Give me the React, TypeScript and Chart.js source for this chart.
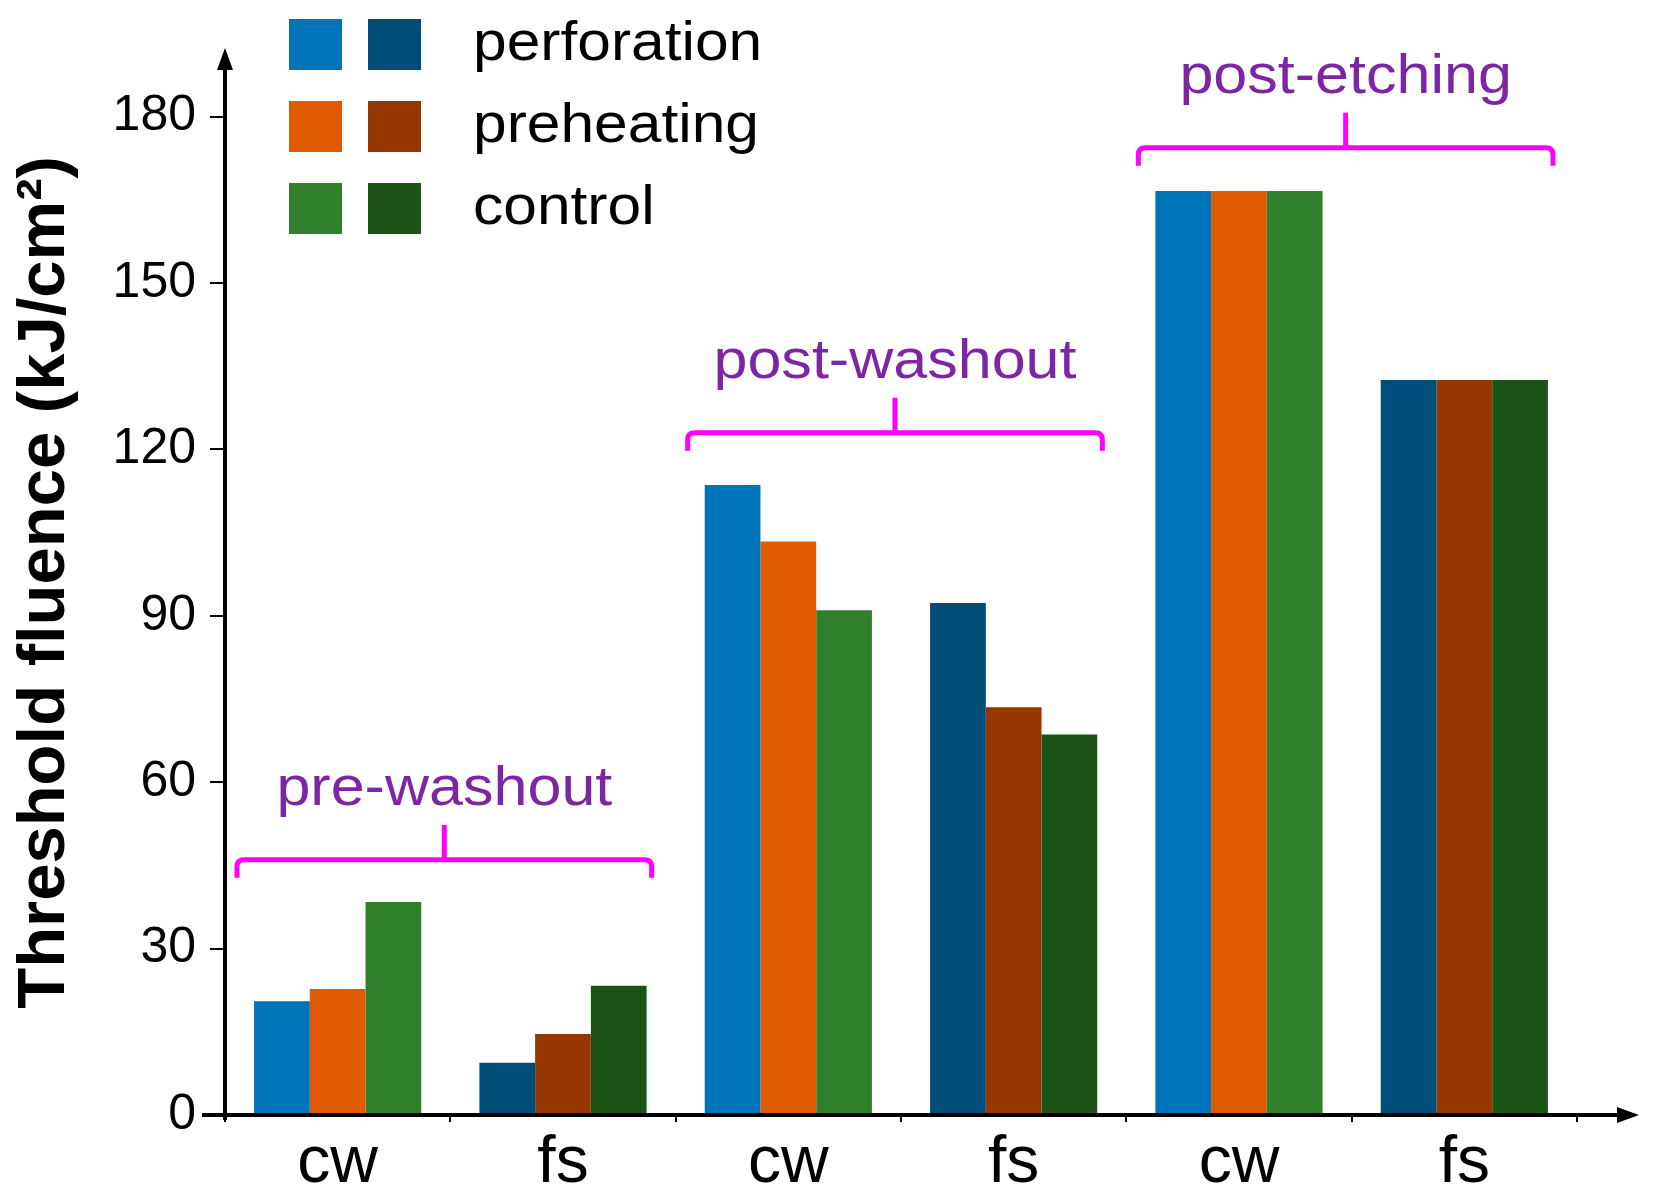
import React, { useEffect, useRef } from "react";
import { Chart, registerables } from "chart.js";

Chart.register(...registerables);

const categories = ["cw", "fs", "cw", "fs", "cw", "fs"];
const seriesNames = ["perforation", "preheating", "control"];
const perforation = [20.5, 9.4, 113.6, 92.3, 166.6, 132.5];
const preheating = [22.7, 14.6, 103.4, 73.5, 166.6, 132.5];
const control = [38.4, 23.3, 91.0, 68.6, 166.6, 132.5];
const groupLabels = ["pre-washout", "post-washout", "post-etching"];
const braceLevels = [46, 123, 174.4];
const yTickValues = [0, 30, 60, 90, 120, 150, 180];
const lightColors = ["#0074B8", "#E05A00", "#31812C"];
const darkColors = ["#004D7A", "#963600", "#1C5418"];

const FONT = "'Liberation Sans', Arial, Helvetica, sans-serif";

const overlayPlugin = {
  id: "overlay",
  afterDraw(chart: any) {
    const ctx: CanvasRenderingContext2D = chart.ctx;
    const xs = chart.scales.x;
    const ys = chart.scales.y;
    const area = chart.chartArea;
    const y0 = ys.getPixelForValue(0);
    ctx.save();
    // axes
    ctx.strokeStyle = "#000";
    ctx.fillStyle = "#000";
    ctx.lineWidth = 4;
    ctx.beginPath();
    ctx.moveTo(area.left, y0 + 5);
    ctx.lineTo(area.left, area.top + 12);
    ctx.stroke();
    ctx.beginPath();
    ctx.moveTo(area.left, area.top - 2);
    ctx.lineTo(area.left - 8, area.top + 20);
    ctx.lineTo(area.left + 8, area.top + 20);
    ctx.closePath();
    ctx.fill();
    const xEnd = area.right + 62;
    ctx.beginPath();
    ctx.moveTo(area.left - 23, y0);
    ctx.lineTo(xEnd - 12, y0);
    ctx.stroke();
    ctx.beginPath();
    ctx.moveTo(xEnd, y0);
    ctx.lineTo(xEnd - 22, y0 - 8);
    ctx.lineTo(xEnd - 22, y0 + 8);
    ctx.closePath();
    ctx.fill();

    // braces and group labels
    const half = (xs.getPixelForValue(1) - xs.getPixelForValue(0)) / 2;
    groupLabels.forEach((label, g) => {
      const start = xs.getPixelForValue(2 * g) - half;
      const end = xs.getPixelForValue(2 * g + 1) + half;
      const left = start + 12;
      const right = end - 24;
      const yH = ys.getPixelForValue(braceLevels[g]);
      const mid = (left + right) / 2;
      ctx.strokeStyle = "#FF00FF";
      ctx.lineWidth = 5;
      ctx.lineCap = "butt";
      ctx.beginPath();
      ctx.moveTo(left, yH + 18);
      ctx.lineTo(left, yH + 7);
      ctx.quadraticCurveTo(left, yH, left + 7, yH);
      ctx.lineTo(right - 7, yH);
      ctx.quadraticCurveTo(right, yH, right, yH + 7);
      ctx.lineTo(right, yH + 18);
      ctx.stroke();
      ctx.beginPath();
      ctx.moveTo(mid, yH);
      ctx.lineTo(mid, yH - 35);
      ctx.stroke();

      ctx.save();
      ctx.fillStyle = "#7D25A5";
      ctx.font = `56px ${FONT}`;
      ctx.textAlign = "center";
      ctx.textBaseline = "alphabetic";
      ctx.translate(mid, yH - 55);
      ctx.scale(1.09, 1);
      ctx.fillText(label, 0, 0);
      ctx.restore();
    });

    // legend
    seriesNames.forEach((name, i) => {
      const top = 19 + 82 * i;
      ctx.fillStyle = lightColors[i];
      ctx.fillRect(289, top, 53, 51);
      ctx.fillStyle = darkColors[i];
      ctx.fillRect(368, top, 53, 51);
      ctx.save();
      ctx.fillStyle = "#000";
      ctx.font = `55px ${FONT}`;
      ctx.textAlign = "left";
      ctx.textBaseline = "middle";
      ctx.translate(473, top + 25.5);
      ctx.scale(1.1, 1);
      ctx.fillText(name, 0, 0);
      ctx.restore();
    });
    ctx.restore();
  },
};

export default function App() {
  const ref = useRef<HTMLCanvasElement | null>(null);
  useEffect(() => {
    if (!ref.current) return;
    const colorsFor = (i: number) =>
      categories.map((_, k) => (k % 2 === 0 ? lightColors[i] : darkColors[i]));
    const seriesData = [perforation, preheating, control];
    const chart = new Chart(ref.current, {
      type: "bar",
      data: {
        labels: categories,
        datasets: seriesNames.map((name, i) => ({
          label: name,
          data: seriesData[i],
          backgroundColor: colorsFor(i),
          borderWidth: 0,
          categoryPercentage: 0.742,
          barPercentage: 1.0,
        })),
      },
      options: {
        responsive: false,
        animation: false,
        devicePixelRatio: 1,
        layout: { padding: { top: 50, right: 84, left: 0, bottom: 0 } },
        plugins: { legend: { display: false }, tooltip: { enabled: false } },
        scales: {
          x: {
            grid: {
              display: true,
              drawOnChartArea: false,
              drawTicks: true,
              tickLength: 7,
              color: "#000",
              lineWidth: 2,
              offset: true,
            },
            border: { display: false },
            ticks: {
              color: "#000",
              font: { family: FONT, size: 66 },
              padding: 2,
              maxRotation: 0,
              autoSkip: false,
            },
            afterFit: (scale: any) => {
              scale.height = 81;
            },
          },
          y: {
            min: 0,
            max: 192,
            grid: {
              display: true,
              drawOnChartArea: false,
              drawTicks: true,
              tickLength: 15,
              color: "#000",
              lineWidth: 2,
            },
            border: { display: false },
            ticks: {
              stepSize: 30,
              includeBounds: false,
              color: "#000",
              font: { family: FONT, size: 50 },
              padding: 14,
            },
            afterBuildTicks: (scale: any) => {
              scale.ticks = yTickValues.map((v) => ({ value: v }));
            },
            title: {
              display: true,
              text: "Threshold fluence (kJ/cm²)",
              color: "#000",
              font: { family: FONT, size: 67, weight: "bold", lineHeight: 1.2 },
              padding: { top: 5, bottom: 0 },
            },
            afterFit: (scale: any) => {
              scale.width = 225;
            },
          },
        },
      },
      plugins: [overlayPlugin],
    });
    return () => chart.destroy();
  }, []);
  return (
    <div style={{ position: "fixed", left: 0, top: 0, width: 1661, height: 1196, background: "#fff" }}>
      <canvas ref={ref} width={1661} height={1196} style={{ width: 1661, height: 1196, display: "block" }} />
    </div>
  );
}
